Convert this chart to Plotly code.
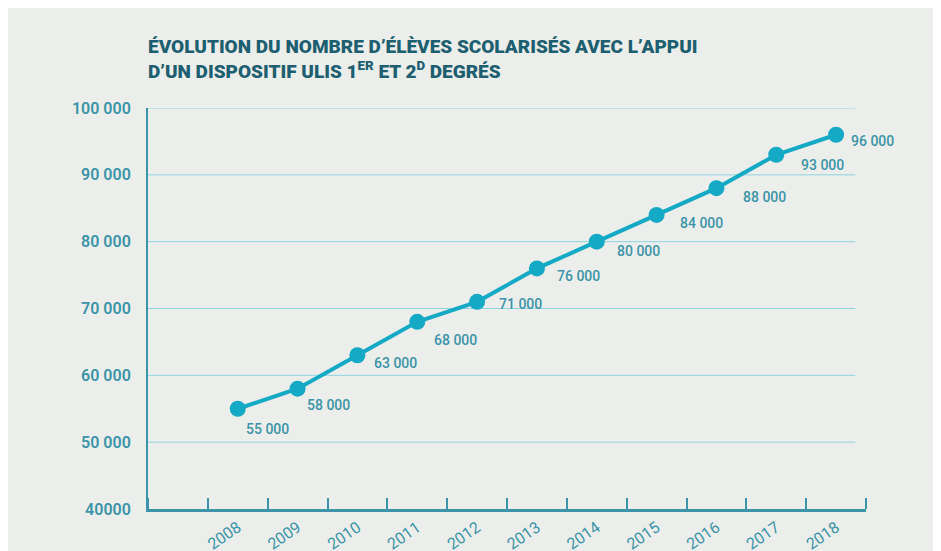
import plotly.graph_objects as go

years = [2008, 2009, 2010, 2011, 2012, 2013, 2014, 2015, 2016, 2017, 2018]
eleves = [55000, 58000, 63000, 68000, 71000, 76000, 80000, 84000, 88000, 93000, 96000]
labels = ["55 000", "58 000", "63 000", "68 000", "71 000", "76 000", "80 000",
          "84 000", "88 000", "93 000", "96 000"]
y_ticks = [40000, 50000, 60000, 70000, 80000, 90000, 100000]
y_tick_text = ["40000", "50 000", "60 000", "70 000", "80 000", "90 000", "100 000"]
title_text = ("ÉVOLUTION DU NOMBRE D’ÉLÈVES SCOLARISÉS AVEC L’APPUI<br>"
              "D’UN DISPOSITIF ULIS 1<sup>ER</sup> ET 2<sup>D</sup> DEGRÉS")

# label placement (pixel offsets from each point)
label_shift = [(30, -20), (31, -16), (38, -8), (38, -18), (43, -2), (42, -8),
               (42, -9), (45, -8), (48, -9), (46, -10), (36, -6)]

BG = "#eceeeb"
TEAL = "#3b94a8"
LINE = "#14a9c4"
GRID = "#8fd5e0"

fig = go.Figure()
fig.add_trace(go.Scatter(
    x=years, y=eleves, mode="lines+markers",
    line=dict(color=LINE, width=4),
    marker=dict(color=LINE, size=16),
    hoverinfo="x+y", showlegend=False,
))

for x, y, t, (dx, dy) in zip(years, eleves, labels, label_shift):
    fig.add_annotation(x=x, y=y, text=t, showarrow=False,
                       xshift=dx, yshift=dy, xanchor="center", yanchor="middle",
                       font=dict(family="Roboto", size=14, color=TEAL, weight=500))

# horizontal grid lines
for v in y_ticks[1:]:
    fig.add_shape(type="line", xref="paper", yref="y", x0=0, x1=0.985, y0=v, y1=v,
                  line=dict(color=GRID, width=1), layer="below")

fig.update_layout(
    width=941, height=551,
    margin=dict(l=140, r=83, t=100, b=50, autoexpand=False),
    paper_bgcolor=BG, plot_bgcolor=BG,
    title=dict(text=title_text, x=140 / 941, xanchor="left", y=1 - 45 / 551,
               yanchor="top",
               font=dict(family="Roboto", size=19, color="#1d5f70", weight=900)),
    xaxis=dict(
        range=[2006.5, 2018.5], tickvals=years, ticktext=[str(y) for y in years],
        tickangle=-35, ticks="", showgrid=False, zeroline=False, automargin=False,
        showline=True, linecolor=TEAL, linewidth=3,
        tickfont=dict(family="Roboto", size=16, color=TEAL),
        minor=dict(tick0=2006.5, dtick=1, ticks="inside", ticklen=11,
                   tickwidth=2, tickcolor=TEAL, showgrid=False),
    ),
    yaxis=dict(
        range=[40000, 100000], tickvals=y_ticks, ticktext=y_tick_text,
        showgrid=False, zeroline=False, showline=True, linecolor=TEAL,
        linewidth=2, ticks="", ticklabelstandoff=12, automargin=False,
        tickfont=dict(family="Roboto", size=16, color=TEAL, weight=600),
    ),
)

fig.write_html("out.html")
